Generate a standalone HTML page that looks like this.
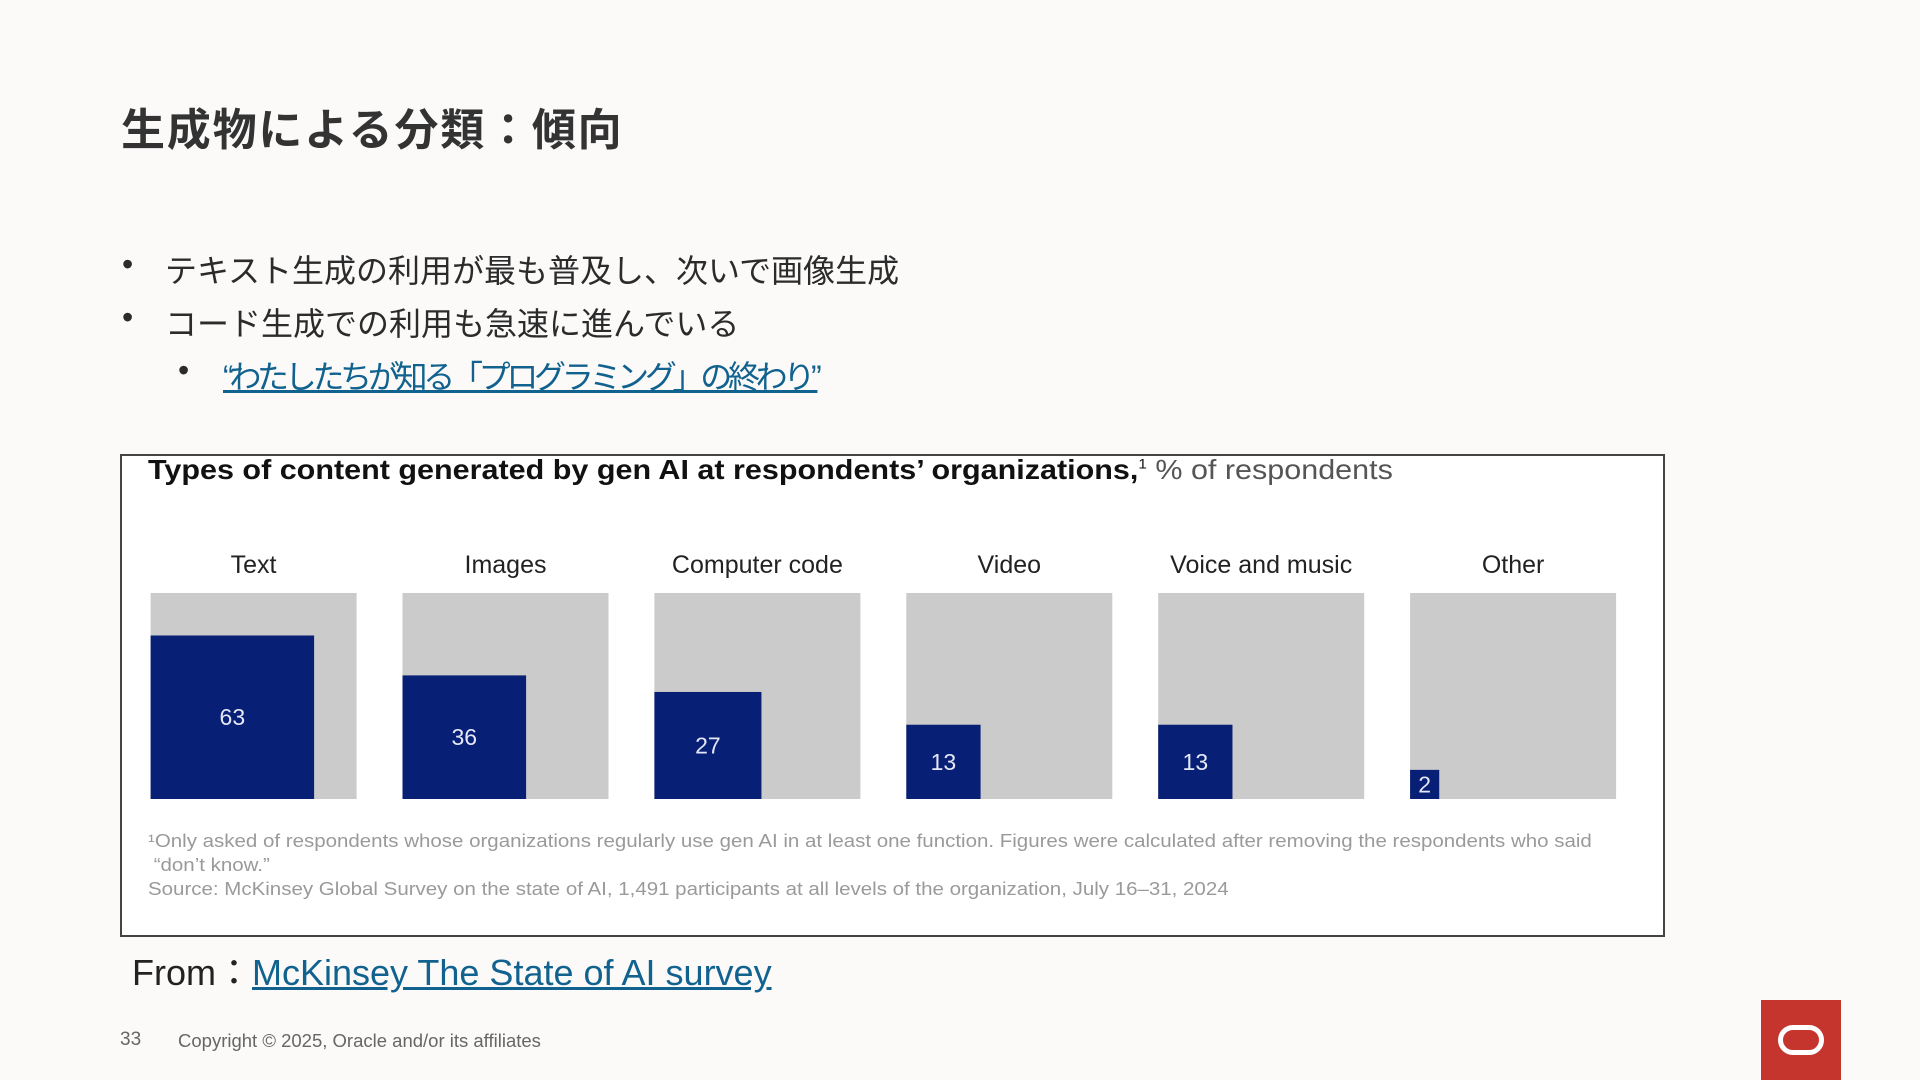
<!DOCTYPE html>
<html><head><meta charset="utf-8"><style>
body{margin:0;width:1920px;height:1080px;background:#fbfaf9;position:relative;overflow:hidden;font-family:"Liberation Sans","Noto Sans CJK JP",sans-serif;color:#2b2b2b}
.abs{position:absolute;white-space:nowrap}
a{color:#11628e;text-decoration:underline}
</style></head><body>
<div class="abs" style="left:121px;top:94px;font-size:44px;font-weight:bold;color:#333;letter-spacing:1.8px">生成物による分類：傾向</div>
<div class="abs" style="left:122px;top:246px;font-size:32px">•<span style="position:absolute;left:43px">テキスト生成の利用が最も普及し、次いで画像生成</span></div>
<div class="abs" style="left:122px;top:299px;font-size:32px">•<span style="position:absolute;left:43px">コード生成での利用も急速に進んでいる</span></div>
<div class="abs" style="left:178px;top:352px;font-size:32px">•<span style="position:absolute;left:45px;letter-spacing:-4.3px"><a>“わたしたちが知る「プログラミング」の終わり”</a></span></div>

<div class="abs" style="left:120px;top:454px;width:1541px;height:479px;border:2px solid #444;background:#fff"></div>
<div class="abs" style="left:148px;top:454px;font-size:28px;color:#111;transform:scaleX(1.09);transform-origin:left top"><b>Types of content generated by gen AI at respondents’ organizations,</b><sup style="font-size:14px">1</sup> <span style="color:#555">% of respondents</span></div>
<svg class="abs" id="chart" style="left:0;top:0" width="1920" height="1080"></svg>
<div class="abs" style="left:148px;top:829px;font-size:18px;color:#9a9a9a;line-height:24px;transform:scaleX(1.138);transform-origin:left top">¹Only asked of respondents whose organizations regularly use gen AI in at least one function. Figures were calculated after removing the respondents who said<br>&nbsp;“don’t know.”<br>Source: McKinsey Global Survey on the state of AI, 1,491 participants at all levels of the organization, July 16–31, 2024</div>

<div class="abs" style="left:132px;top:944px;font-size:36px;color:#222">From：<a>McKinsey The State of AI survey</a></div>
<div class="abs" style="left:120px;top:1029px;font-size:19px;color:#666">33</div>
<div class="abs" style="left:178px;top:1030px;font-size:18.5px;color:#666">Copyright © 2025, Oracle and/or its affiliates</div>
<div class="abs" style="left:1761px;top:1000px;width:80px;height:80px;background:#c5352e">
<div style="position:absolute;left:17px;top:25px;width:36px;height:20px;border:5px solid #fff;border-radius:15px"></div></div>
<script>
const categories=["Text","Images","Computer code","Video","Voice and music","Other"];
const values=[63,36,27,13,13,2];
const svg=document.getElementById('chart');
const NS='http://www.w3.org/2000/svg';
const panelLefts0=150.6, step=251.9, panelSize=206, panelTop=593;
function side(v){return Math.sqrt(v/100)*panelSize;}
categories.forEach((c,i)=>{
  const x=panelLefts0+i*step;
  const bg=document.createElementNS(NS,'rect');
  
  
  bg.setAttribute('x',x);bg.setAttribute('y',panelTop);bg.setAttribute('width',panelSize);bg.setAttribute('height',panelSize);bg.setAttribute('fill','#cbcbcb');svg.appendChild(bg);
  const s=side(values[i]);
  const sq=document.createElementNS(NS,'rect');
  
  
  sq.setAttribute('x',x);sq.setAttribute('y',panelTop+panelSize-s);sq.setAttribute('width',s);sq.setAttribute('height',s);sq.setAttribute('fill','#071f75');svg.appendChild(sq);
  const t=document.createElementNS(NS,'text');
  
  
  t.setAttribute('x',x+panelSize/2);t.setAttribute('y',573);t.setAttribute('text-anchor','middle');t.setAttribute('font-size','25');t.setAttribute('fill','#222');t.setAttribute('font-family','Liberation Sans, sans-serif');t.textContent=c;svg.appendChild(t);
  const v=document.createElementNS(NS,'text');
  
  
  v.setAttribute('x',x+s/2);v.setAttribute('y',panelTop+panelSize-s/2+8);v.setAttribute('text-anchor','middle');v.setAttribute('font-size','23');v.setAttribute('fill','#e4e8f8');v.setAttribute('font-family','Liberation Sans, sans-serif');v.textContent=values[i];svg.appendChild(v);
});
</script>
</body></html>
